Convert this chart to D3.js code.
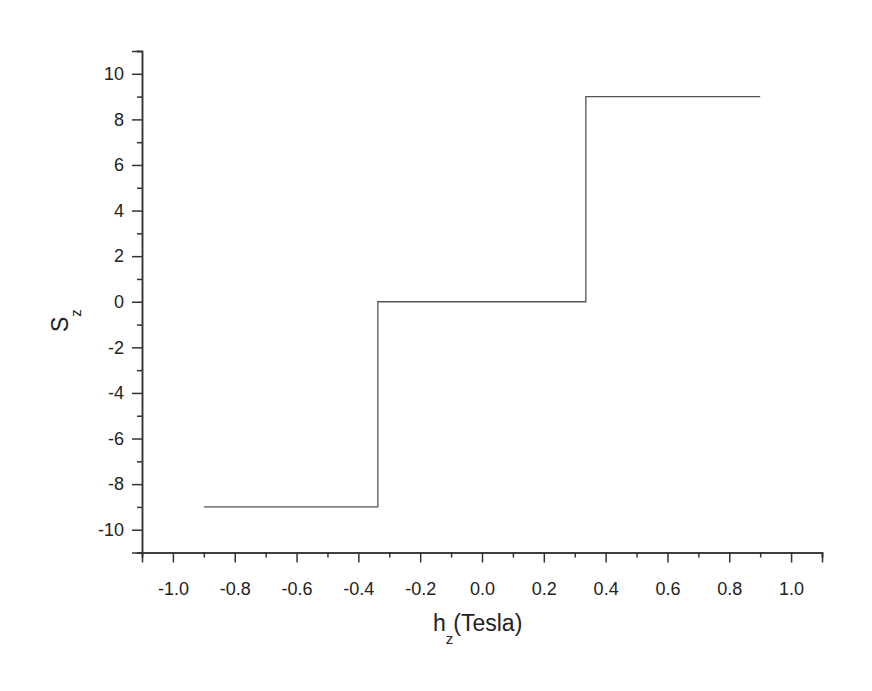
<!DOCTYPE html>
<html>
<head>
<meta charset="utf-8">
<script src="https://cdn.jsdelivr.net/npm/d3@7"></script>
<style>
  html, body { margin: 0; padding: 0; background: #fff; }
  svg { display: block; }
  text { font-family: "Liberation Sans", Arial, sans-serif; fill: #222; }
</style>
</head>
<body>
<svg id="chart" width="872" height="691"></svg>
<script>
// Data
const hField = [-0.9, -0.337, -0.337, 0.336, 0.336, 0.9];
const szValues = [-9, -9, 0, 0, 9, 9];
const xMajorTicks = [-1.0, -0.8, -0.6, -0.4, -0.2, 0.0, 0.2, 0.4, 0.6, 0.8, 1.0];
const xMinorTicks = [-1.1, -0.9, -0.7, -0.5, -0.3, -0.1, 0.1, 0.3, 0.5, 0.7, 0.9, 1.1];
const yMajorTicks = [-10, -8, -6, -4, -2, 0, 2, 4, 6, 8, 10];
const yMinorTicks = [-11, -9, -7, -5, -3, -1, 1, 3, 5, 7, 9, 11];

const svg = d3.select("#chart");
const mLeft = 142, mRight = 822, mTop = 51, mBottom = 552.5;

const x = d3.scaleLinear().domain([-1.1, 1.1]).range([mLeft, mRight]);
const y = d3.scaleLinear().domain([-11, 11]).range([mBottom, mTop]);

const axisColor = "#333";
const fmt1 = d3.format(".1f"), fmt0 = d3.format("d");
const hy = s => s.replace("\u2212", "-");

const xMinor = d3.axisBottom(x).tickValues(xMinorTicks).tickSize(5).tickFormat("");
const yMinor = d3.axisLeft(y).tickValues(yMinorTicks).tickSize(5).tickFormat("");
const xMajor = d3.axisBottom(x).tickValues(xMajorTicks).tickSize(10).tickPadding(20)
  .tickFormat(d => hy(fmt1(d)));
const yMajor = d3.axisLeft(y).tickValues(yMajorTicks).tickSize(10).tickPadding(8)
  .tickFormat(d => hy(fmt0(d)));

function style(g) {
  g.selectAll("path, line").attr("stroke", axisColor).attr("stroke-width", 1.5);
  g.selectAll("text").attr("font-size", 18).attr("fill", "#222")
    .attr("font-family", "'Liberation Sans', Arial, sans-serif");
}

svg.append("g").attr("transform", `translate(0,${mBottom})`).call(xMinor).call(style);
svg.append("g").attr("transform", `translate(0,${mBottom})`).call(xMajor).call(style);
svg.append("g").attr("transform", `translate(${mLeft},0)`).call(yMinor).call(style);
svg.append("g").attr("transform", `translate(${mLeft},0)`).call(yMajor).call(style);

const pts = hField.map((h, i) => [h, szValues[i]]);
svg.append("path")
  .datum(pts)
  .attr("fill", "none")
  .attr("stroke", "#555")
  .attr("stroke-width", 1.3)
  .attr("d", d3.line().x(d => x(d[0])).y(d => y(d[1])));

const xl = svg.append("text").attr("x", 433).attr("y", 631).attr("font-size", 23);
xl.append("tspan").text("h");
xl.append("tspan").attr("font-size", 15).attr("dy", 13).text("z");
xl.append("tspan").attr("dy", -13).text("(Tesla)");

const yl = svg.append("text").attr("transform", "translate(68,332) rotate(-90)").attr("font-size", 23);
yl.append("tspan").text("S");
yl.append("tspan").attr("font-size", 15).attr("dy", 13).text("z");
</script>
</body>
</html>
